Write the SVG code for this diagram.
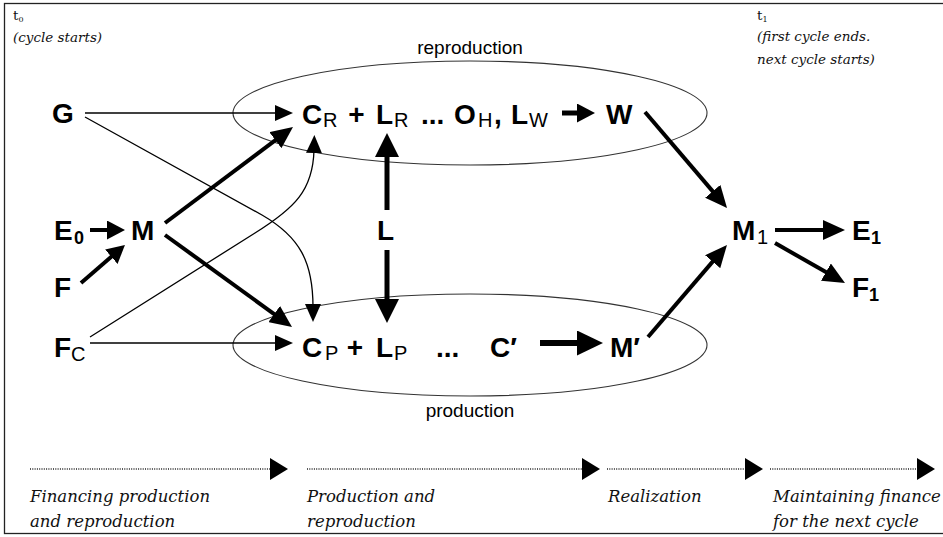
<svg xmlns="http://www.w3.org/2000/svg" width="943" height="537" viewBox="0 0 943 537">
<style>
.b{font-family:"Liberation Sans",Arial,sans-serif;font-weight:bold;font-size:28px;fill:#000}
.s{font-family:"Liberation Sans",Arial,sans-serif;font-size:20px;fill:#000}
.sb{font-family:"Liberation Sans",Arial,sans-serif;font-weight:bold;font-size:18px;fill:#000}
.lab{font-family:"Liberation Sans",Arial,sans-serif;font-size:19px;fill:#000}
.it{font-family:"DejaVu Serif",serif;font-style:italic;font-size:16.5px;fill:#111}
.itt{font-family:"DejaVu Serif",serif;font-style:italic;font-size:13.5px;fill:#111}
.tt{font-family:"DejaVu Serif",serif;font-size:13.5px;fill:#111}
.thin{fill:none;stroke:#000;stroke-width:1.3}
.thick{fill:none;stroke:#000;stroke-width:4}
.row{fill:none;stroke:#000;stroke-width:5}
.dot{fill:none;stroke:#222;stroke-width:1.5;stroke-dasharray:1 1.3}
.ell{fill:none;stroke:#333;stroke-width:1.1}
</style>
<defs>
<marker id="hs" markerUnits="userSpaceOnUse" markerWidth="18" markerHeight="16" refX="3" refY="8" orient="auto"><path d="M0,0 L18,8 L0,16 z" fill="#000"/></marker>
<marker id="hm" markerUnits="userSpaceOnUse" markerWidth="18" markerHeight="19" refX="3" refY="9.5" orient="auto"><path d="M0,0 L18,9.5 L0,19 z" fill="#000"/></marker>
<marker id="ht" markerUnits="userSpaceOnUse" markerWidth="22" markerHeight="20" refX="3" refY="10" orient="auto"><path d="M0,0 L22,10 L0,20 z" fill="#000"/></marker>
<marker id="hL" markerUnits="userSpaceOnUse" markerWidth="24" markerHeight="24" refX="3" refY="12" orient="auto"><path d="M0,0 L24,12 L0,24 z" fill="#000"/></marker>
<marker id="hX" markerUnits="userSpaceOnUse" markerWidth="26" markerHeight="25" refX="3" refY="12.5" orient="auto"><path d="M0,0 L26,12.5 L0,25 z" fill="#000"/></marker>
<marker id="htl" markerUnits="userSpaceOnUse" markerWidth="18" markerHeight="22" refX="3" refY="11" orient="auto"><path d="M0,0 L18,11 L0,22 z" fill="#000"/></marker>
</defs>
<rect x="4.5" y="3.5" width="945" height="530" fill="#fff" stroke="#222" stroke-width="1.3"/>

<g id="header">
<text class="tt" x="13" y="20">t<tspan font-size="8" dy="2">0</tspan></text>
<text class="itt" x="13" y="42">(cycle starts)</text>
<text class="tt" x="757" y="20">t<tspan font-size="8" dy="2">1</tspan></text>
<text class="itt" x="757" y="41">(first cycle ends.</text>
<text class="itt" x="757" y="64">next cycle starts)</text>
</g>

<g id="reproduction">
<ellipse class="ell" cx="470" cy="113" rx="237" ry="52"/>
<text class="lab" x="470" y="54" text-anchor="middle">reproduction</text>
</g>
<g id="production">
<ellipse class="ell" cx="470" cy="345" rx="237" ry="51"/>
<text class="lab" x="470" y="417" text-anchor="middle">production</text>
</g>

<g id="connectors">
<path class="thin" d="M85,113 H278" marker-end="url(#hs)"/>
<path class="thin" d="M90,343 H278" marker-end="url(#hs)"/>
<path class="thin" d="M85,117 L262,215 C300,237 313,262 313,307" marker-end="url(#hs)"/>
<path class="thin" d="M90,337 L255,233 C295,208 313,190 314,150" marker-end="url(#hs)"/>
<path class="thick" d="M165,223 L277.8,138.4" marker-end="url(#ht)"/>
<path class="thick" d="M165,235 L276.6,315.8" marker-end="url(#ht)"/>
<path class="thick" d="M90,230 H110" marker-end="url(#hm)"/>
<path class="thick" d="M81,283 L113.6,254.8" marker-end="url(#hm)"/>
<path class="row" d="M387,210 V154" marker-end="url(#hL)"/>
<path class="row" d="M387,250 V302" marker-end="url(#hL)"/>
<path class="row" d="M562,113 H580" marker-end="url(#hm)"/>
<path class="row" style="stroke-width:6" d="M540,343 H580" marker-end="url(#hX)"/>
<path class="thick" d="M645,112 L714.7,193.6" marker-end="url(#ht)"/>
<path class="thick" d="M648,337 L714.6,259.4" marker-end="url(#ht)"/>
<path class="thick" d="M775,230 H826" marker-end="url(#ht)"/>
<path class="thick" d="M775,243 L828.5,273.6" marker-end="url(#ht)"/>
</g>

<g id="G"><text class="b" x="52" y="123">G</text></g>
<g id="E0"><text class="b" x="54" y="240">E</text><text class="sb" x="74" y="244">0</text></g>
<g id="M"><text class="b" x="131" y="240">M</text></g>
<g id="F"><text class="b" x="54" y="297">F</text></g>
<g id="FC"><text class="b" x="54" y="357">F</text><text class="s" x="71" y="361">C</text></g>

<g id="upper-row">
<text class="b" x="302" y="124">C</text><text class="s" x="323" y="127">R</text>
<text class="b" x="356.5" y="124" text-anchor="middle">+</text>
<text class="b" x="376" y="124">L</text><text class="s" x="394" y="127">R</text>
<text class="b" x="421" y="124">...</text>
<text class="b" x="454" y="124">O</text><text class="s" x="478" y="127">H</text>
<text class="b" x="494" y="124">,</text>
<text class="b" x="511" y="124">L</text><text class="s" x="529" y="127">W</text>
</g>
<g id="W"><text class="b" x="606" y="124">W</text></g>

<g id="L"><text class="b" x="377" y="240">L</text></g>

<g id="lower-row">
<text class="b" x="302" y="357">C</text><text class="s" x="325" y="360">P</text>
<text class="b" x="355" y="357" text-anchor="middle">+</text>
<text class="b" x="376" y="357">L</text><text class="s" x="394" y="360">P</text>
<text class="b" x="436" y="357">...</text>
<text class="b" x="490" y="357">C′</text>
</g>
<g id="Mprime"><text class="b" x="610" y="357">M′</text></g>

<g id="M1"><text class="b" x="732" y="240">M</text><text class="s" x="757" y="244">1</text></g>
<g id="E1"><text class="b" x="852" y="240">E</text><text class="sb" x="871" y="244">1</text></g>
<g id="F1"><text class="b" x="852" y="297">F</text><text class="sb" x="869" y="301">1</text></g>

<g id="timeline">
<path class="dot" d="M30,469 H273" marker-end="url(#htl)"/>
<path class="dot" d="M307,469 H585" marker-end="url(#htl)"/>
<path class="dot" d="M607,469 H748" marker-end="url(#htl)"/>
<path class="dot" d="M770,469 H920" marker-end="url(#htl)"/>
<text class="it" x="30" y="502">Financing production</text>
<text class="it" x="30" y="527">and reproduction</text>
<text class="it" x="307" y="502">Production and</text>
<text class="it" x="307" y="527">reproduction</text>
<text class="it" x="608" y="502">Realization</text>
<text class="it" x="773" y="502">Maintaining finance</text>
<text class="it" x="773" y="527">for the next cycle</text>
</g>
</svg>
